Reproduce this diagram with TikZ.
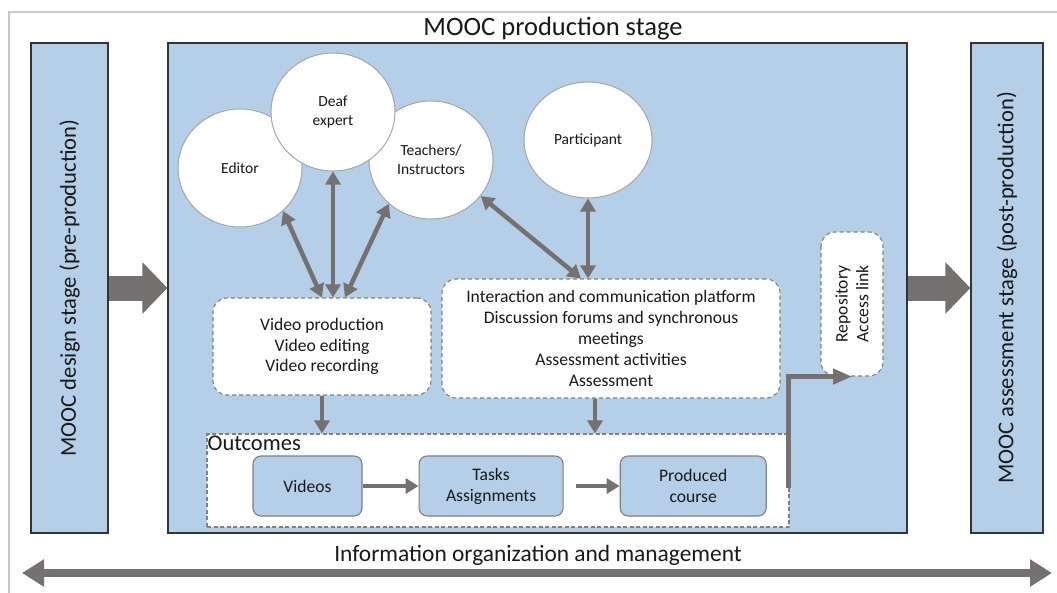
\documentclass[tikz,border=0pt]{standalone}
\usepackage{fontspec}
\setmainfont{Carlito}
\usetikzlibrary{arrows.meta,shapes.geometric,positioning}

\definecolor{boxblue}{RGB}{181,207,232}
\definecolor{arrgray}{RGB}{118,113,113}
\definecolor{edgegray}{RGB}{128,128,128}
\definecolor{ringgray}{RGB}{165,165,165}
\definecolor{framegray}{RGB}{200,200,200}
\definecolor{txtblack}{RGB}{25,25,25}

\begin{document}
\begin{tikzpicture}[
        x=1pt, y=-1pt,
        every node/.style={align=center, text=txtblack, inner sep=0pt},
        stagebox/.style={draw=black!80, line width=1.1pt, fill=boxblue, font=\fontsize{22.6}{26}\selectfont},
        actor/.style={ellipse, draw=ringgray, line width=1pt, fill=white, minimum width=124pt, minimum height=118pt, font=\fontsize{15.5}{19}\selectfont},
        taskbox/.style={draw=edgegray, dash pattern=on 4pt off 3pt, line width=1.1pt, fill=white, rounded corners=14pt, font=\fontsize{17.6}{20.8}\selectfont},
        outbox/.style={draw=edgegray, line width=1.1pt, fill=boxblue, rounded corners=8pt, minimum height=60pt, font=\fontsize{17.6}{20.8}\selectfont},
        link/.style={draw=arrgray, line width=4.5pt, {Triangle[length=13pt,width=15pt]}-{Triangle[length=13pt,width=15pt]}},
        flow/.style={draw=arrgray, line width=4.5pt, -{Triangle[length=13pt,width=15pt]}},
        bigflow/.style={draw=arrgray, line width=25pt, -{Triangle[length=25pt,width=50pt]}}
    ]
    \useasboundingbox (0,0) rectangle (1057,592);
    \draw[framegray, line width=1.5pt] (9,600) -- (9,12) -- (1070,12);

    % Nodes
    \node (design)[stagebox, rotate=90, minimum width=490pt, minimum height=77pt] at (69.5,288) {MOOC design stage (pre-production)};
    \node (prod)[stagebox, minimum width=739pt, minimum height=490pt] at (537.5,288) {};
    \node (assess)[stagebox, rotate=90, minimum width=490pt, minimum height=72pt] at (1007,288) {MOOC assessment stage (post-production)};
    \node (title) at (553,29) [font=\fontsize{26.5}{30}\selectfont] {MOOC production stage};

    \node (editor)[actor] at (240,168) {Editor};
    \node (teachers)[actor] at (431,160) {Teachers/\\Instructors};
    \node (deaf)[actor] at (333,112) {Deaf\\expert};
    \node (participant)[actor, minimum width=128pt, minimum height=116pt] at (588,140) {Participant};

    \node (video)[taskbox, minimum width=218pt, minimum height=97pt] at (322,346.5) {Video production\\Video editing\\Video recording};
    \node (inter)[taskbox, minimum width=338pt, minimum height=119pt] at (611,338.5) {Interaction and communication platform\\
        Discussion forums and synchronous\\
        meetings\\
        Assessment activities\\
        Assessment};
    \node (repo)[taskbox, rotate=90, minimum width=144pt, minimum height=62pt] at (852,304) {Repository\\Access link};

    \node (outcomes)[draw=edgegray, dash pattern=on 4pt off 2.5pt, line width=1.1pt, fill=white, minimum width=582pt, minimum height=93pt] at (498,480.5) {};
    \node (outlabel)[anchor=north west, font=\fontsize{22.5}{26}\selectfont] at ([xshift=1pt,yshift=-2.5pt]outcomes.north west) {Outcomes};
    \node (videos)[outbox, minimum width=109pt] at (307.5,486) {Videos};
    \node (tasks)[outbox, minimum width=144pt, right=56pt of videos] {Tasks\\Assignments};
    \node (produced)[outbox, minimum width=146pt, right=56pt of tasks] {Produced\\course};

    \node (info) at (538,555) [font=\fontsize{23.4}{28}\selectfont] {Information organization and management};
    \coordinate (infoL) at (22,573);
    \coordinate (infoR) at (1052,573);

    % Edges
    \draw[bigflow] (design) -- (prod);
    \draw[bigflow] (prod) -- (assess);
    \draw[draw=arrgray, line width=8pt, {Triangle[length=22pt,width=26pt]}-{Triangle[length=22pt,width=26pt]}] (infoL) -- (infoR);

    \draw[link] (editor.-45) -- ([xshift=0pt]video.north);
    \draw[link] (deaf.south) -- (deaf.south |- video.north);
    \draw[link] (teachers.-134) -- ([xshift=23pt]video.north);
    \draw[link] (teachers.-36) -- ([xshift=-30pt]inter.north);
    \draw[link] (participant.south) -- (participant.south |- inter.north);

    \draw[flow] (video.south) -- (video.south |- outcomes.north);
    \draw[flow] ([xshift=-16pt]inter.south) -- ([xshift=-16pt]inter.south |- outcomes.north);
    \draw[flow] (videos) -- (tasks);
    \draw[flow, shorten <=12pt] (tasks) -- (produced);
    \draw[flow, -{Triangle[length=19pt,width=15pt]}] ([xshift=-1pt,yshift=-7.5pt]outcomes.east) |- (repo.west);

\end{tikzpicture}
\end{document}
